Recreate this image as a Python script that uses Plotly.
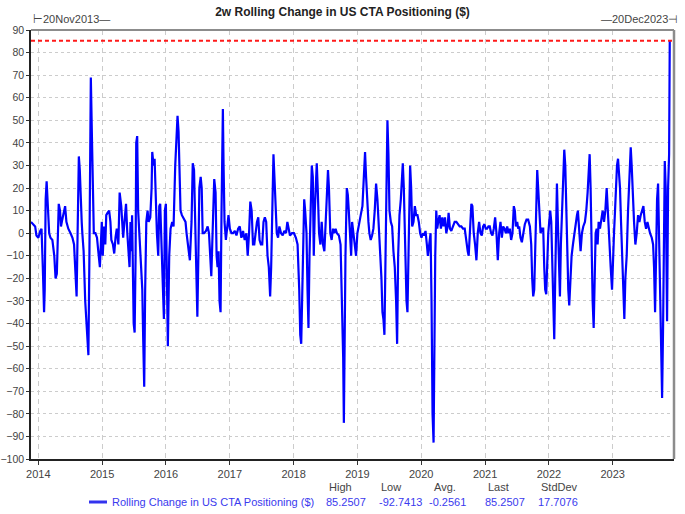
import numpy as np
import pandas as pd
import plotly.graph_objects as go

# ---------------- data (decimal year, value) ----------------
t_2014_2016 = [2013.885, 2013.95, 2013.97, 2014.00, 2014.03, 2014.05, 2014.07, 2014.09, 2014.10, 2014.115,
               2014.13, 2014.15, 2014.17, 2014.19, 2014.22, 2014.25, 2014.27, 2014.29, 2014.31, 2014.32,
               2014.34, 2014.355, 2014.375, 2014.405, 2014.42, 2014.44, 2014.47, 2014.505, 2014.535, 2014.56,
               2014.58, 2014.60, 2014.61, 2014.625, 2014.635, 2014.65, 2014.66, 2014.68, 2014.69, 2014.71,
               2014.735, 2014.755, 2014.77, 2014.785, 2014.80, 2014.81, 2014.823, 2014.84, 2014.855, 2014.87,
               2014.895, 2014.92, 2014.94, 2014.965, 2014.98, 2014.995, 2015.01, 2015.03, 2015.05, 2015.065,
               2015.085, 2015.11, 2015.13, 2015.145, 2015.17, 2015.19, 2015.21, 2015.23, 2015.255, 2015.275,
               2015.30, 2015.33, 2015.35, 2015.375, 2015.395, 2015.415, 2015.43, 2015.445, 2015.46, 2015.47,
               2015.495, 2015.51, 2015.525, 2015.535, 2015.55, 2015.565, 2015.59, 2015.61, 2015.63, 2015.645,
               2015.66, 2015.675, 2015.693, 2015.713, 2015.729, 2015.755, 2015.776, 2015.786, 2015.807, 2015.823,
               2015.839, 2015.859, 2015.88, 2015.896, 2015.911, 2015.932, 2015.953, 2015.969, 2015.984, 2016.0,
               2016.016, 2016.031, 2016.052, 2016.073, 2016.099, 2016.12, 2016.146, 2016.167, 2016.182, 2016.198,
               2016.214, 2016.229, 2016.25, 2016.281, 2016.307, 2016.323, 2016.349, 2016.375, 2016.401, 2016.42,
               2016.44]
v_2014_2016 = [5, 3, -1, -2, 1, 2, -15, -35, -25, 15,
               23, 10, 0, -2, -3, -10, -20, -18, 10, 13,
               10, 3, 6, 11, 12, 5, 2, 0, -2, -5,
               -20, -28, -10, 15, 34, 28, 18, 5, 0, -8,
               -30, -40, -48, -54, -12, 35, 69, 43, 20, 0,
               0, -2, -8, -15, -5, 5, -10, 3, -5, 8,
               9, 10, 5, -3, -5, -9, -2, 2, -5, 18,
               12, -2, 5, 13, 0, -8, -15, 5, -8, 8,
               -40, -44, -10, 40, 43, 10, -5, -10, -25, -48,
               -68, -25, 5, 10, 5, 7, 20, 36, 30, 33,
               15, 0, -10, 12, 13, -5, -30, -38, 10, 13,
               -20, -50, -10, 2, 5, 3, 30, 40, 52, 45,
               25, 10, 8, 6, 5, 0, -5, -12, 5, 31,
               28]

t_2016_2018 = [2016.456, 2016.472, 2016.492, 2016.508, 2016.523, 2016.544, 2016.560, 2016.575, 2016.596, 2016.627,
               2016.653, 2016.674, 2016.689, 2016.710, 2016.725, 2016.741, 2016.756, 2016.777, 2016.793, 2016.808,
               2016.824, 2016.839, 2016.855, 2016.870, 2016.881, 2016.891, 2016.902, 2016.917, 2016.938, 2016.959,
               2016.979, 2017.000, 2017.026, 2017.052, 2017.078, 2017.104, 2017.130, 2017.155, 2017.181, 2017.207,
               2017.233, 2017.259, 2017.280, 2017.301, 2017.321, 2017.342, 2017.363, 2017.383, 2017.404, 2017.425,
               2017.446, 2017.466, 2017.487, 2017.508, 2017.528, 2017.549, 2017.570, 2017.591, 2017.611, 2017.632,
               2017.648, 2017.668, 2017.684, 2017.699, 2017.715, 2017.736, 2017.756, 2017.777, 2017.803, 2017.829,
               2017.855, 2017.881, 2017.902, 2017.922, 2017.943, 2017.974, 2018.005, 2018.036, 2018.062, 2018.088,
               2018.104, 2018.119, 2018.135, 2018.150, 2018.166, 2018.181, 2018.202, 2018.218, 2018.233, 2018.249,
               2018.264, 2018.285, 2018.301, 2018.316, 2018.332, 2018.347, 2018.363, 2018.378, 2018.399, 2018.420,
               2018.440, 2018.461, 2018.482, 2018.503, 2018.523, 2018.539, 2018.554, 2018.575, 2018.596, 2018.617,
               2018.637, 2018.658, 2018.679, 2018.710, 2018.736, 2018.751, 2018.767, 2018.777, 2018.788, 2018.798,
               2018.813, 2018.834, 2018.850, 2018.865, 2018.886, 2018.902, 2018.917]
v_2016_2018 = [10, -20, -37, -10, 20, 25, 20, 0, 0, 1,
               3, 0, -10, -19, -5, 15, 24, 18, -10, -15,
               -8, -30, -35, 10, 35, 55, 30, 5, -3, 3,
               8, 2, 0, 0, 1, -1, 2, 3, -2, 1,
               -3, 0, -10, 0, 14, 10, -5, -5, 0, 5,
               7, -3, -5, -5, 5, 7, 5, -10, -15, -28,
               -15, 15, 35, 25, 10, 0, -2, 3, 0, -1,
               1, 0, 5, 2, -1, 0, 0, -2, -5, -25,
               -45, -49, -20, 5, 15, 10, 0, -25, -42, -10,
               10, 30, 25, -10, 10, 20, 31, 20, 0, -5,
               5, -5, -8, 5, 20, 28, 20, 0, -3, 2,
               0, 2, 0, -1, -5, -20, -40, -55, -84, -40,
               -10, 20, 17, 10, -5, -10, 5]

t_2019_2021 = [2018.958, 2018.979, 2019.000, 2019.026, 2019.052, 2019.079, 2019.094, 2019.110, 2019.120, 2019.136,
               2019.152, 2019.173, 2019.188, 2019.209, 2019.230, 2019.251, 2019.272, 2019.293, 2019.314, 2019.335,
               2019.356, 2019.377, 2019.393, 2019.408, 2019.424, 2019.440, 2019.455, 2019.471, 2019.487, 2019.503,
               2019.524, 2019.545, 2019.565, 2019.586, 2019.607, 2019.623, 2019.639, 2019.660, 2019.681, 2019.696,
               2019.712, 2019.728, 2019.749, 2019.770, 2019.785, 2019.801, 2019.817, 2019.827, 2019.843, 2019.859,
               2019.880, 2019.901, 2019.921, 2019.942, 2019.963, 2019.984, 2020.005, 2020.026, 2020.047, 2020.068,
               2020.089, 2020.105, 2020.126, 2020.147, 2020.162, 2020.178, 2020.194, 2020.204, 2020.220, 2020.236,
               2020.251, 2020.267, 2020.288, 2020.309, 2020.330, 2020.351, 2020.372, 2020.393, 2020.414, 2020.429,
               2020.450, 2020.471, 2020.497, 2020.524, 2020.550, 2020.576, 2020.602, 2020.628, 2020.654, 2020.681,
               2020.707, 2020.728, 2020.743, 2020.764, 2020.785, 2020.801, 2020.822, 2020.843, 2020.864, 2020.885,
               2020.906, 2020.927, 2020.948, 2020.969, 2020.990, 2021.010, 2021.031, 2021.052, 2021.073, 2021.094,
               2021.115, 2021.136, 2021.157, 2021.178, 2021.199, 2021.220, 2021.241, 2021.262, 2021.283, 2021.304,
               2021.325, 2021.346, 2021.366, 2021.387, 2021.408, 2021.429]
v_2019_2021 = [-5, -10, 0, 5, 8, 12, 20, 30, 36, 25,
               15, 5, 0, -3, -1, 2, 10, 22, 15, 5,
               -5, -20, -35, -38, -45, -10, 30, 50, 35, 10,
               5, 3, -8, -15, -30, -49, -10, 8, 15, 27,
               31, 20, -10, -30, -35, -5, 25, 30, 20, 3,
               5, 12, 8, 8, 5, 0, -2, 0, -1, 1,
               -5, -10, -5, 0, -30, -80, -92.7413, -50, -10, 10,
               2, 5, 8, 2, 7, 3, 7, 0, 3, 9,
               2, 1, 3, 5, 5, 4, 3, 3, 2, 2,
               -5, -8, -10, 2, 13, 12, 0, -5, -12, 0,
               5, 0, -1, 3, 4, 2, 2, 3, 3, 0,
               -1, 2, 7, 0, -12, 0, 5, -2, 3, 2,
               0, 3, 0, 2, -3, 0]

t_2021_2023 = [2021.450, 2021.466, 2021.482, 2021.503, 2021.518, 2021.534, 2021.555, 2021.576, 2021.597, 2021.623,
               2021.649, 2021.675, 2021.702, 2021.723, 2021.738, 2021.754, 2021.770, 2021.785, 2021.801, 2021.817,
               2021.832, 2021.848, 2021.869, 2021.890, 2021.911, 2021.927, 2021.942, 2021.958, 2021.974, 2021.990,
               2022.005, 2022.021, 2022.037, 2022.052, 2022.068, 2022.084, 2022.099, 2022.115, 2022.126, 2022.141,
               2022.157, 2022.173, 2022.188, 2022.204, 2022.225, 2022.241, 2022.257, 2022.272, 2022.288, 2022.304,
               2022.319, 2022.335, 2022.356, 2022.377, 2022.398, 2022.419, 2022.440, 2022.455, 2022.476, 2022.497,
               2022.518, 2022.539, 2022.565, 2022.586, 2022.607, 2022.623, 2022.639, 2022.654, 2022.670, 2022.686,
               2022.702, 2022.717, 2022.733, 2022.749, 2022.764, 2022.780, 2022.801, 2022.822, 2022.843, 2022.864,
               2022.885, 2022.906, 2022.921, 2022.937, 2022.953, 2022.969, 2022.990, 2023.005, 2023.021, 2023.037,
               2023.052, 2023.068, 2023.084, 2023.099, 2023.115, 2023.131, 2023.152, 2023.168, 2023.183, 2023.199,
               2023.220, 2023.241, 2023.262, 2023.283, 2023.298, 2023.314, 2023.335, 2023.356, 2023.377, 2023.398,
               2023.419, 2023.440, 2023.461, 2023.482, 2023.503, 2023.524, 2023.545, 2023.565, 2023.586, 2023.613,
               2023.634, 2023.649, 2023.665, 2023.681, 2023.696, 2023.712, 2023.728, 2023.743, 2023.759, 2023.775,
               2023.791, 2023.806, 2023.817, 2023.832, 2023.843, 2023.853, 2023.869, 2023.885, 2023.895]
v_2021_2023 = [12, 10, 3, 5, 2, 3, -2, -4, 0, 4,
               6, 6, 3, -5, -20, -28, -25, -10, 10, 28,
               20, 12, 0, 2, 2, -15, -25, -27, -10, 0,
               5, 10, 5, -10, -30, -47, -20, 20, 22, 5,
               -15, -28, -5, 10, 30, 37, 30, 10, -10, -25,
               -32, -20, -10, -5, 0, 5, 8, 10, 0, -8,
               0, 3, 5, 10, 18, 25, 35, 20, -15, -30,
               -42, -20, 0, 2, -5, 5, 2, 6, 10, 5,
               10, 20, 10, 0, -10, -15, -25, -10, 0, 10,
               20, 30, 33, 25, 20, 5, -10, -25, -38, -20,
               -10, 10, 25, 38, 30, 15, 5, -5, 0, 8,
               5, 8, 10, 12, 5, 2, 5, 2, 0, -2,
               -5, -15, -35, -10, 15, 22, 0, -30, -55, -73,
               -40, 0, 32, 20, -10, -39, 20, 35, 85.2507]

series_name = "Rolling Change in US CTA Positioning ($)"
stat_labels = ["High", "Low", "Avg.", "Last", "StdDev"]
stat_values = ["85.2507", "-92.7413", "-0.2561", "85.2507", "17.7076"]
high_value = 85.2507
start_label = "20Nov2013"
end_label = "20Dec2023"
year_ticks = list(range(2014, 2024))


def to_dates(ts):
    out = []
    for t in ts:
        y = int(np.floor(t))
        s = pd.Timestamp(year=y, month=1, day=1)
        e = pd.Timestamp(year=y + 1, month=1, day=1)
        out.append(s + (e - s) * (t - y))
    return out


t_all = t_2014_2016 + t_2016_2018 + t_2019_2021 + t_2021_2023
v_all = v_2014_2016 + v_2016_2018 + v_2019_2021 + v_2021_2023
dates = to_dates(t_all)

# ---------------- figure ----------------
W, H = 685, 514
L, R, T, B = 31, 11, 30, 55
pw, ph = W - L - R, H - T - B


def px_x(p):
    return (p - L) / pw


def px_y(p):
    return (H - B - p) / ph


fig = go.Figure()
fig.add_trace(go.Scatter(x=dates, y=v_all, mode="lines", name=series_name,
                         line=dict(color="#0000ff", width=2.2), showlegend=False))

fig.add_hline(y=high_value, line=dict(color="#ff1a1a", width=2, dash="4px,3px"))

FONT = "Liberation Sans, Arial, sans-serif"
fig.update_layout(
    width=W, height=H,
    margin=dict(l=L, r=R, t=T, b=B, autoexpand=False),
    paper_bgcolor="white", plot_bgcolor="white",
    font=dict(family=FONT, size=11, color="#333333"),
    title=dict(text="2w Rolling Change in US CTA Positioning ($)", x=0.5, xanchor="center",
               y=1 - 12 / H, yanchor="middle",
               font=dict(family=FONT, size=12, color="#222222", weight="bold")),
    showlegend=False,
)

fig.update_xaxes(
    type="date", automargin=False,
    range=[pd.Timestamp("2013-11-20"), pd.Timestamp("2023-12-18")],
    tickvals=[pd.Timestamp(year=y, month=1, day=1) for y in year_ticks],
    ticktext=[str(y) for y in year_ticks],
    ticks="outside", ticklen=4, tickcolor="#333333",
    showgrid=True, gridcolor="#cccccc", gridwidth=1, griddash="5px,4px",
    showline=True, linecolor="#222222", linewidth=1.5,
    zeroline=False, tickfont=dict(size=11, color="#444444"),
)
fig.update_yaxes(
    range=[-100, 90], dtick=10, tick0=0, automargin=False,
    ticks="outside", ticklen=3, tickcolor="#333333",
    showgrid=True, gridcolor="#cccccc", gridwidth=1, griddash="3px,3px",
    showline=True, linecolor="#222222", linewidth=1.5,
    zeroline=False, tickfont=dict(size=10.5, color="#444444"),
)

# gray top/right frame
fig.add_shape(type="line", xref="paper", yref="paper", x0=0, x1=1, y0=1, y1=1,
              line=dict(color="#8c8c8c", width=2))
fig.add_shape(type="line", xref="paper", yref="paper", x0=1, x1=1, y0=0, y1=1,
              line=dict(color="#8c8c8c", width=2.5))

# top range labels
fig.add_annotation(xref="paper", yref="paper", x=0, y=1, yshift=3, xanchor="left", yanchor="bottom",
                   text="⊢" + start_label + "—", showarrow=False, font=dict(size=11, color="#444444"))
fig.add_annotation(xref="paper", yref="paper", x=1, y=1, yshift=3, xshift=6, xanchor="right", yanchor="bottom",
                   text="—" + end_label + "⊣", showarrow=False, font=dict(size=11, color="#444444"))

# bottom legend with stats
fig.add_shape(type="line", xref="paper", yref="paper", x0=px_x(89), x1=px_x(107),
              y0=px_y(502), y1=px_y(502), line=dict(color="#3333ee", width=3))
fig.add_annotation(xref="paper", yref="paper", x=px_x(110), y=px_y(502), xanchor="left", yanchor="middle",
                   text=series_name, showarrow=False, font=dict(size=11, color="#3a3aee"))
head_x = [340, 391, 445, 498, 559]
val_x = [346, 400, 447, 505, 558]
for lab, hx in zip(stat_labels, head_x):
    fig.add_annotation(xref="paper", yref="paper", x=px_x(hx), y=px_y(487), xanchor="center", yanchor="middle",
                       text=lab, showarrow=False, font=dict(size=11, color="#444444"))
for val, vx in zip(stat_values, val_x):
    fig.add_annotation(xref="paper", yref="paper", x=px_x(vx), y=px_y(502), xanchor="center", yanchor="middle",
                       text=val, showarrow=False, font=dict(size=11, color="#3a3aee"))

fig.write_html("out.html", config={"displayModeBar": False},
               post_script="document.body.style.margin='0px';")
